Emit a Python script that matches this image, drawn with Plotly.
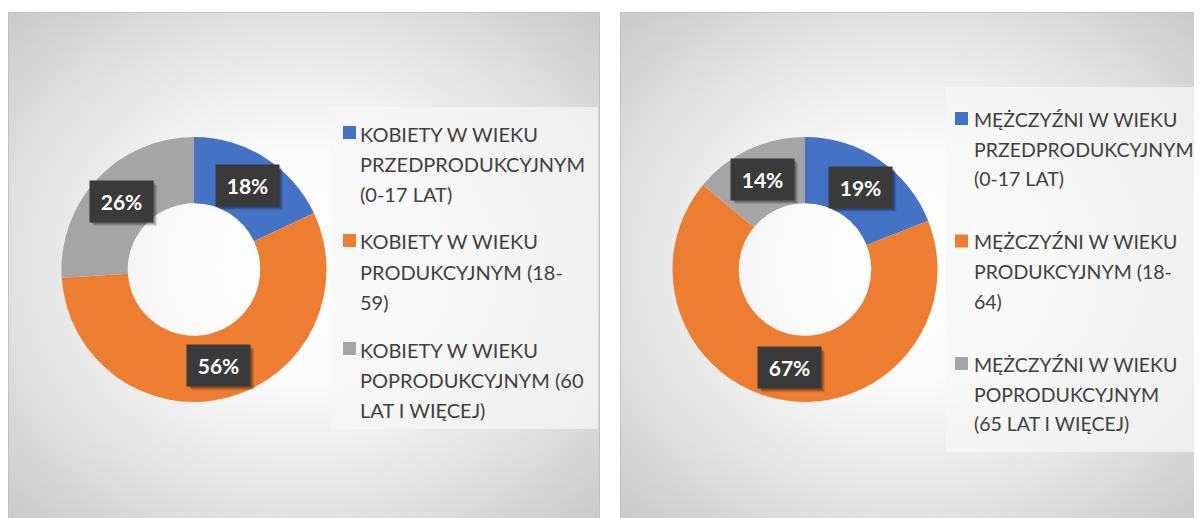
import math
import plotly.graph_objects as go

# ---------------- data ----------------
women_labels = [
    "KOBIETY W WIEKU PRZEDPRODUKCYJNYM (0-17 LAT)",
    "KOBIETY W WIEKU PRODUKCYJNYM (18-59)",
    "KOBIETY W WIEKU POPRODUKCYJNYM (60 LAT I WIĘCEJ)",
]
women_legend_lines = [
    ["KOBIETY W WIEKU", "PRZEDPRODUKCYJNYM", "(0-17 LAT)"],
    ["KOBIETY W WIEKU", "PRODUKCYJNYM (18-", "59)"],
    ["KOBIETY W WIEKU", "POPRODUKCYJNYM (60", "LAT I WIĘCEJ)"],
]
women_values = [18, 56, 26]

men_labels = [
    "MĘŻCZYŹNI W WIEKU PRZEDPRODUKCYJNYM (0-17 LAT)",
    "MĘŻCZYŹNI W WIEKU PRODUKCYJNYM (18-64)",
    "MĘŻCZYŹNI W WIEKU POPRODUKCYJNYM (65 LAT I WIĘCEJ)",
]
men_legend_lines = [
    ["MĘŻCZYŹNI W WIEKU", "PRZEDPRODUKCYJNYM", "(0-17 LAT)"],
    ["MĘŻCZYŹNI W WIEKU", "PRODUKCYJNYM (18-", "64)"],
    ["MĘŻCZYŹNI W WIEKU", "POPRODUKCYJNYM", "(65 LAT I WIĘCEJ)"],
]
men_values = [19, 67, 14]

colors = ["#4472C4", "#ED7D31", "#A5A5A5"]

# ---------------- layout helpers ----------------
PAGE_W, PAGE_H = 1202, 518
OFF = 8                      # browser body margin
FW, FH = PAGE_W - OFF, PAGE_H - OFF
TEXT = "#404040"
FONT = "Lato"
BOX_W, BOX_H = 63, 41


def px(X):
    return (X - OFF) / FW


def py(Y):
    return 1 - (Y - OFF) / FH


panels = [
    dict(labels=women_labels, lines=women_legend_lines, values=women_values,
         box=(8, 12, 600, 518), cx=194, cy=269.5, r=132.5,
         leg_box=(331, 107, 598, 429), mark_x=343, text_x=358,
         first_y=132.5, entry_step=108, line_step=30, fsize=20),
    dict(labels=men_labels, lines=men_legend_lines, values=men_values,
         box=(620, 12, 1202, 518), cx=805, cy=269.5, r=132.5,
         leg_box=(946, 87, 1202, 452), mark_x=955, text_x=972,
         first_y=118.5, entry_step=122.5, line_step=29.5, fsize=19.5),
]

fig = go.Figure()
shapes = []
annotations = []
axes = {}

grad = [[0, "#ffffff"], [0.32, "#fbfbfb"], [0.68, "#e3e3e3"], [1, "#cacaca"]]

for k, p in enumerate(panels):
    x0, y0, x1, y1 = p["box"]
    w, h = x1 - x0, y1 - y0
    suffix = "" if k == 0 else str(k + 1)
    # panel background: radial gradient clipped to the panel subplot
    s = 1.41
    cxp, cyp = w / 2, h / 2
    fig.add_trace(go.Scatter(
        x=[cxp - s * w / 2, cxp + s * w / 2, cxp + s * w / 2, cxp - s * w / 2, cxp - s * w / 2],
        y=[cyp - s * h / 2, cyp - s * h / 2, cyp + s * h / 2, cyp + s * h / 2, cyp - s * h / 2],
        mode="lines", fill="toself", line=dict(width=0),
        fillgradient=dict(type="radial", colorscale=grad),
        hoverinfo="skip", showlegend=False,
        xaxis="x" + suffix, yaxis="y" + suffix,
    ))
    axes["xaxis" + suffix] = dict(domain=[px(x0), min(1, px(x1))], range=[0, w],
                                  visible=False, fixedrange=True,
                                  anchor="y" + suffix)
    axes["yaxis" + suffix] = dict(domain=[max(0, py(y1)), py(y0)], range=[h, 0],
                                  visible=False, fixedrange=True,
                                  anchor="x" + suffix)
    # panel border (top, left, right)
    shapes.append(dict(
        type="path", xref="paper", yref="paper",
        path="M %f,%f L %f,%f L %f,%f L %f,%f" % (
            px(x0 + 0.5), py(y1), px(x0 + 0.5), py(y0 + 0.5),
            px(x1 - 0.5), py(y0 + 0.5), px(x1 - 0.5), py(y1)),
        line=dict(color="#c2c2c2", width=1), layer="above",
    ))
    # legend background panel
    lx0, ly0, lx1, ly1 = p["leg_box"]
    shapes.append(dict(
        type="rect", xref="paper", yref="paper",
        x0=px(lx0), x1=px(lx1), y0=py(ly1), y1=py(ly0),
        fillcolor="rgba(246,246,246,0.72)", line=dict(width=0), layer="above",
    ))

for p in panels:
    cx, cy, r = p["cx"], p["cy"], p["r"]
    fig.add_trace(go.Pie(
        labels=p["labels"], values=p["values"],
        hole=0.5, sort=False, direction="clockwise", rotation=0,
        marker=dict(colors=colors, line=dict(width=0)),
        textinfo="none", showlegend=False,
        domain=dict(x=[px(cx - r), px(cx + r)], y=[py(cy + r), py(cy - r)]),
    ))
    # data labels at mid-ring, mid-angle (with a soft drop shadow)
    total = sum(p["values"])
    cum = 0
    rm = r * 0.75
    for v in p["values"]:
        frac_mid = (cum + v / 2) / total
        cum += v
        th = 2 * math.pi * frac_mid
        X, Y = cx + rm * math.sin(th), cy - rm * math.cos(th)
        for sh, alpha in ((4, 0.10), (3, 0.14), (2, 0.18)):
            shapes.append(dict(
                type="rect", xref="paper", yref="paper",
                x0=px(X - BOX_W / 2 + sh), x1=px(X + BOX_W / 2 + sh),
                y0=py(Y + BOX_H / 2 + sh), y1=py(Y - BOX_H / 2 + sh),
                fillcolor="rgba(0,0,0,%.2f)" % alpha, line=dict(width=0), layer="above",
            ))
        annotations.append(dict(
            x=px(X), y=py(Y), xref="paper", yref="paper", showarrow=False,
            text="<b>%d%%</b>" % round(100 * v / total),
            font=dict(family=FONT, size=21, color="white"),
            bgcolor="#3a3a3a", width=BOX_W - 2, height=BOX_H - 2, borderpad=1,
            xanchor="center", yanchor="middle",
        ))
    # legend entries
    for i, lines in enumerate(p["lines"]):
        ybase = p["first_y"] + i * p["entry_step"]
        shapes.append(dict(
            type="rect", xref="paper", yref="paper",
            x0=px(p["mark_x"]), x1=px(p["mark_x"] + 13),
            y0=py(ybase + 6.5), y1=py(ybase - 6.5),
            fillcolor=colors[i], line=dict(width=0), layer="above",
        ))
        for j, t in enumerate(lines):
            annotations.append(dict(
                x=px(p["text_x"]), y=py(ybase + j * p["line_step"] + 1),
                xref="paper", yref="paper", showarrow=False, text=t,
                font=dict(family=FONT, size=p["fsize"], color=TEXT),
                xanchor="left", yanchor="middle",
            ))

fig.update_layout(
    width=FW, height=FH,
    margin=dict(l=0, r=0, t=0, b=0),
    paper_bgcolor="white", plot_bgcolor="rgba(0,0,0,0)",
    shapes=shapes, annotations=annotations,
    showlegend=False,
    **axes,
)

fig.write_html("out.html")
